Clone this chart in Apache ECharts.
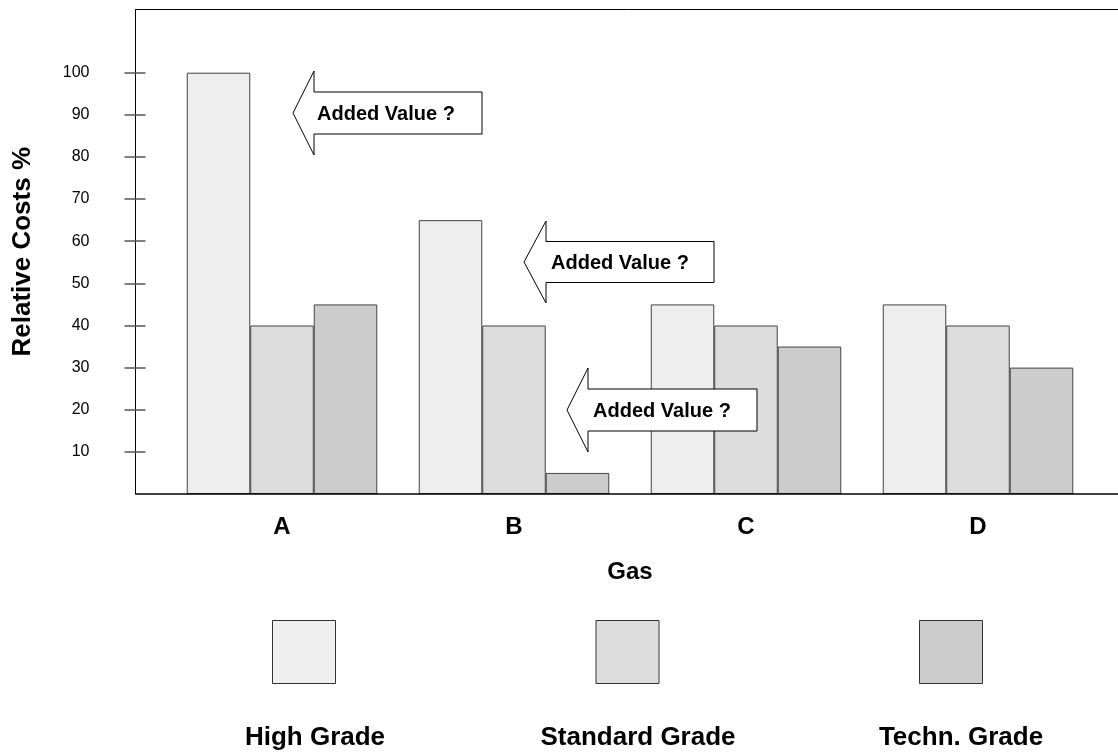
<!DOCTYPE html>
<html>
<head>
<meta charset="utf-8">
<script src="https://cdn.jsdelivr.net/npm/echarts@6/dist/echarts.min.js"></script>
<style>html,body{margin:0;padding:0;background:#fff}#c{width:1118px;height:754px}</style>
</head>
<body>
<div id="c"></div>
<script>
var categories = ['A', 'B', 'C', 'D'];
var seriesNames = ['High Grade', 'Standard Grade', 'Techn. Grade'];
var highGrade = [100, 65, 45, 45];
var standardGrade = [40, 40, 40, 40];
var technGrade = [45, 5, 35, 30];
var yTicks = [10, 20, 30, 40, 50, 60, 70, 80, 90, 100];
var calloutText = 'Added Value ?';

var colors = ['#eeeeee', '#dddddd', '#cccccc'];
var font = '"Liberation Sans", Arial, sans-serif';
var axisX = 135.5, plotTop = 9.5, plotBottom = 494, plotRight = 1118;

function arrow(tipX, tipY, headX, headHalf, bodyHalf, rightX) {
  return {
    type: 'polygon',
    shape: { points: [[tipX, tipY], [headX, tipY - headHalf], [headX, tipY - bodyHalf], [rightX, tipY - bodyHalf],
      [rightX, tipY + bodyHalf], [headX, tipY + bodyHalf], [headX, tipY + headHalf]] },
    style: { fill: '#fff', stroke: '#000', lineWidth: 1 },
    z: 100
  };
}
function label(x, y, txt, size) {
  return { type: 'text', x: x, y: y, z: 101,
    style: { text: txt, font: 'bold ' + size + 'px ' + font, fill: '#000', align: 'center', verticalAlign: 'middle' } };
}

var chart = echarts.init(document.getElementById('c'));
var option = {
  backgroundColor: '#fff',
  animation: false,
  grid: { left: 166, right: 24, top: plotTop, bottom: 754 - plotBottom },
  legend: {
    data: seriesNames,
    left: 267, top: 615,
    itemWidth: 63, itemHeight: 63, itemGap: 259.5,
    icon: 'rect',
    formatter: function () { return ''; },
    itemStyle: { borderColor: '#333', borderWidth: 1 },
    selectedMode: false
  },
  xAxis: {
    type: 'category',
    data: categories,
    name: 'Gas',
    nameLocation: 'middle',
    nameGap: 66,
    nameTextStyle: { fontFamily: font, fontWeight: 'bold', fontSize: 24, color: '#000' },
    axisLine: { show: false },
    axisTick: { show: false },
    axisLabel: { margin: 21, fontFamily: font, fontWeight: 'bold', fontSize: 24, color: '#000' }
  },
  yAxis: [{
    type: 'value', min: 0, max: 115, offset: 166 - axisX,
    name: 'Relative Costs %', nameLocation: 'middle', nameGap: 100,
    nameTextStyle: { fontFamily: font, fontWeight: 'bold', fontSize: 26, color: '#000' },
    axisLine: { show: true, lineStyle: { color: '#000', width: 1 } },
    axisTick: { show: true, length: 11, customValues: yTicks, lineStyle: { color: '#555', width: 1.5 } },
    axisLabel: { customValues: yTicks, margin: 46, fontFamily: font, fontSize: 16, color: '#000' },
    splitLine: { show: false }
  }, {
    type: 'value', min: 0, max: 115, position: 'left', offset: 166 - axisX,
    axisLine: { show: false },
    axisTick: { show: true, inside: true, length: 10, customValues: yTicks, lineStyle: { color: '#555', width: 1.5 } },
    axisLabel: { show: false },
    splitLine: { show: false }
  }],
  series: [
    { name: seriesNames[0], type: 'bar', data: highGrade, barWidth: 63.5, barGap: '0%',
      itemStyle: { color: colors[0], borderColor: '#444', borderWidth: 1 } },
    { name: seriesNames[1], type: 'bar', data: standardGrade, barWidth: 63.5, barGap: '0%',
      itemStyle: { color: colors[1], borderColor: '#444', borderWidth: 1 } },
    { name: seriesNames[2], type: 'bar', data: technGrade, barWidth: 63.5, barGap: '0%',
      itemStyle: { color: colors[2], borderColor: '#444', borderWidth: 1 } }
  ],
  graphic: [
    { type: 'line', shape: { x1: axisX, y1: plotTop, x2: plotRight, y2: plotTop }, style: { stroke: '#000', lineWidth: 1 }, z: 50 },
    { type: 'line', shape: { x1: axisX, y1: plotBottom, x2: plotRight, y2: plotBottom }, style: { stroke: '#000', lineWidth: 1.5 }, z: 50 },
    arrow(293, 113, 314, 42, 21, 482),
    label(386, 114, calloutText, 20),
    arrow(524, 262, 546, 41, 20.5, 714),
    label(620, 263, calloutText, 20),
    arrow(567, 410, 588, 42, 21, 757),
    label(662, 411, calloutText, 20),
    label(315, 738, seriesNames[0], 26),
    label(638, 738, seriesNames[1], 26),
    label(961, 738, seriesNames[2], 26)
  ]
};
chart.setOption(option);
</script>
</body>
</html>
